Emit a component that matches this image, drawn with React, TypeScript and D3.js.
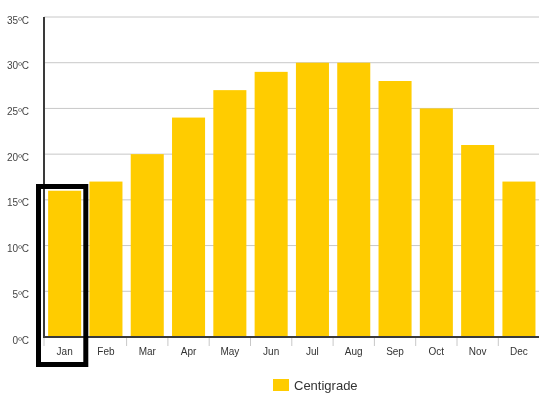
import * as d3 from 'd3';

const months = ['Jan', 'Feb', 'Mar', 'Apr', 'May', 'Jun', 'Jul', 'Aug', 'Sep', 'Oct', 'Nov', 'Dec'];
const centigrade = [16, 17, 20, 24, 27, 29, 30, 30, 28, 25, 21, 17];
const yTicks = [0, 5, 10, 15, 20, 25, 30, 35];
const seriesName = 'Centigrade';
const highlighted = 'Jan';

export default function App() {
    const width = 539;
    const height = 409;

    const margins = {
        top: 17,
        bottom: 72,
        right: 0,
        left: 44,
    };

    const yScale = d3
        .scaleLinear()
        .domain([0, 35])
        .range([height - margins.bottom, margins.top]);

    const xScale = d3
        .scaleBand()
        .domain(months)
        .range([margins.left, width - margins.right + 0.6])
        .paddingInner(0.2)
        .paddingOuter(0.1);

    const step = xScale.step();
    const bandStart = (m: string) => (xScale(m) as number) - (step * 0.2) / 2;
    const y0 = yScale(0);

    // box round the selected month
    const hx = bandStart(highlighted);

    return (
        <svg
            width={width}
            height={height}
            style={{ position: 'fixed', top: 0, left: 0, fontFamily: 'Liberation Sans, Arial, sans-serif' }}
        >
            {yTicks.map((t) => (
                <g key={t} transform={`translate(0, ${yScale(t)})`}>
                    {t > 0 && <line x1={margins.left} x2={width} stroke='#c8c8c8' strokeWidth={1} />}
                    <text x={29} y={3} dy='0.35em' textAnchor='end' fontSize={10} fill='#444'>
                        {t}ºC
                    </text>
                </g>
            ))}

            {months.map((m, i) => (
                <rect
                    key={m}
                    x={xScale(m) as number}
                    y={yScale(centigrade[i])}
                    width={xScale.bandwidth()}
                    height={y0 - yScale(centigrade[i])}
                    fill='#ffcc00'
                />
            ))}

            {months.map((m) => (
                <g key={m}>
                    <line x1={bandStart(m)} x2={bandStart(m)} y1={y0} y2={y0 + 9} stroke='#c8c8c8' />
                    <text
                        x={(xScale(m) as number) + xScale.bandwidth() / 2}
                        y={y0 + 18}
                        textAnchor='middle'
                        fontSize={10}
                        fill='#333'
                    >
                        {m}
                    </text>
                </g>
            ))}

            <line x1={margins.left} x2={width} y1={y0} y2={y0} stroke='#3a3a3a' strokeWidth={2} />
            <line x1={margins.left} x2={margins.left} y1={margins.top} y2={y0 + 1} stroke='#3a3a3a' strokeWidth={2} />

            <rect x={hx - 5.5} y={186.5} width={step + 6} height={178} fill='none' stroke='#000' strokeWidth={5} />

            <g transform='translate(273, 379)'>
                <rect width={16} height={12} fill='#ffcc00' />
                <text x={21} y={10.5} fontSize={13} fill='#333'>
                    {seriesName}
                </text>
            </g>
        </svg>
    );
}
